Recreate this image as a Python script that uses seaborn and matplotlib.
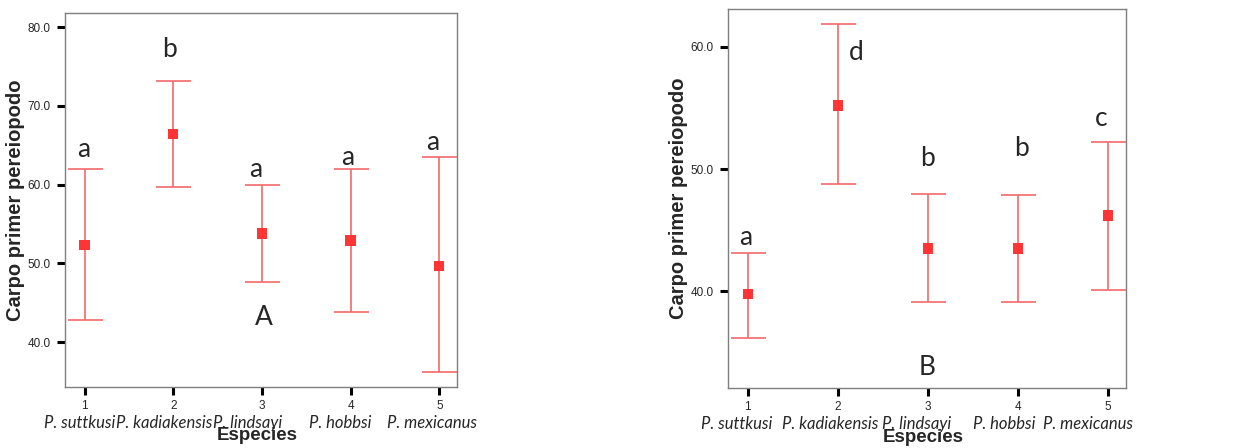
import numpy as np
import matplotlib
import matplotlib.pyplot as plt
import seaborn as sns

matplotlib.use('Agg')

# ---- data ----
species = ["P. suttkusi", "P. kadiakensis", "P. lindsayi", "P. hobbsi", "P. mexicanus"]
codes = [1, 2, 3, 4, 5]

# left panel
left_mean = [52.3, 66.4, 53.8, 52.9, 49.7]
left_low = [42.8, 59.7, 47.6, 43.8, 36.2]
left_high = [62.0, 73.2, 60.0, 62.0, 63.5]
left_letters = ["a", "b", "a", "a", "a"]
left_letter_y = [64.4, 77.1, 61.9, 63.4, 65.4]
left_letter_x = [0.99, 1.96, 2.93, 3.97, 4.92]
left_group = "A"

# right panel
right_mean = [39.8, 55.2, 43.5, 43.5, 46.2]
right_low = [36.2, 48.8, 39.1, 39.1, 40.1]
right_high = [43.1, 61.9, 48.0, 47.9, 52.2]
right_letters = ["a", "d", "b", "b", "c"]
right_letter_y = [44.4, 59.5, 50.9, 51.7, 54.1]
right_letter_x = [0.98, 2.2, 2.99, 4.04, 4.92]
right_group = "B"

sns.set_theme(style="white")
plt.rcParams['font.family'] = ['Liberation Sans', 'DejaVu Sans']

bar_color = '#f36a6a'
mark_color = '#ff3535'


def draw_panel(ax, mean, low, high, letters, lx, ly, group, group_xy, ylim, yticks,
               label_x):
    mean = np.array(mean)
    yerr = np.vstack([mean - np.array(low), np.array(high) - mean])
    ax.errorbar(codes, mean, yerr=yerr, fmt='none', ecolor=bar_color,
                elinewidth=1.2, capsize=12.6, capthick=1.2, zorder=2)
    sns.scatterplot(x=codes, y=mean, ax=ax, marker='s', s=55, color=mark_color,
                    edgecolor='none', zorder=3)

    for t, x, y in zip(letters, lx, ly):
        ax.text(x, y, t, ha='center', va='center', fontsize=19, family='Lato')
    ax.text(group_xy[0], group_xy[1], group, ha='center', va='center',
            fontsize=19, family='Lato')

    ax.set_xlim(0.78, 5.2)
    ax.set_ylim(*ylim)
    ax.set_yticks(yticks)
    ax.set_yticklabels([f"{v:.1f}" for v in yticks], fontsize=8.5)
    ax.set_xticks(codes)
    ax.set_xticklabels([str(c) for c in codes], fontsize=8.5)
    ax.tick_params(axis='both', direction='out', length=5.5, width=2.2,
                   color='black', bottom=True, left=True)
    ax.tick_params(axis='y', pad=5)
    ax.tick_params(axis='x', pad=4)
    for _, spine in ax.spines.items():
        spine.set_visible(True)
        spine.set_color('#7f7f7f')
        spine.set_linewidth(1.0)

    ax.set_ylabel("Carpo primer pereiopodo", fontsize=14.5, fontweight='bold',
                  labelpad=2)
    ax.set_xlabel("")
    for name, x in zip(species, label_x):
        ax.text(x, -0.095, name, transform=ax.get_xaxis_transform(),
                ha='center', va='center', fontsize=12, style='italic', family='Lato')
    ax.text(0.49, -0.13, "Especies", transform=ax.transAxes, ha='center',
            va='center', fontsize=13.5, fontweight='bold')


fig = plt.figure(figsize=(12.39, 4.48), dpi=100)
ax_l = fig.add_axes([0.0525, 0.1362, 0.3164, 0.835])
ax_r = fig.add_axes([0.5876, 0.134, 0.3212, 0.846])

draw_panel(ax_l, left_mean, left_low, left_high, left_letters, left_letter_x,
           left_letter_y, left_group, (3.02, 43.1), (34.3, 81.8),
           [40.0, 50.0, 60.0, 70.0, 80.0],
           [0.94, 1.9, 2.84, 3.88, 4.92])
draw_panel(ax_r, right_mean, right_low, right_high, right_letters, right_letter_x,
           right_letter_y, right_group, (2.99, 33.8), (32.1, 63.1),
           [40.0, 50.0, 60.0],
           [0.88, 1.91, 2.88, 3.85, 4.78])

plt.savefig("out.png", dpi=100)
plt.close()
